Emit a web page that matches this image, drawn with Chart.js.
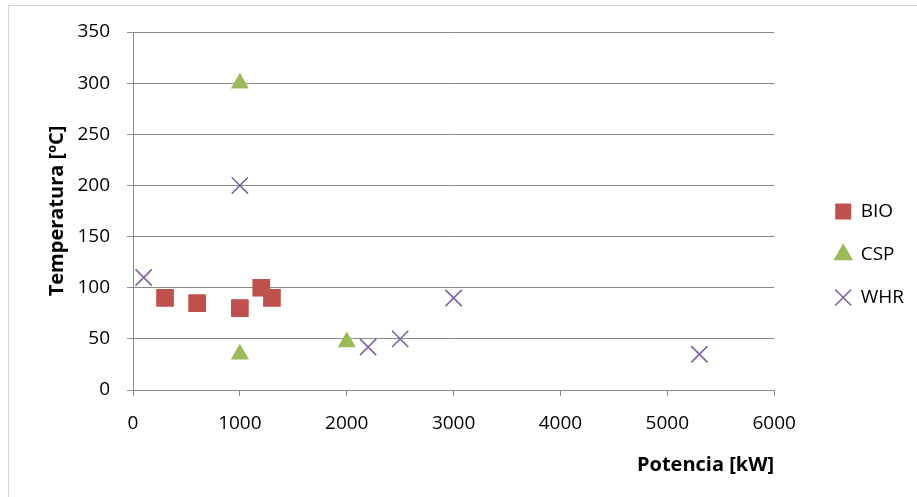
<!DOCTYPE html>
<html>
<head>
<meta charset="utf-8">
<script src="https://cdn.jsdelivr.net/npm/chart.js@4.4.0/dist/chart.umd.min.js"></script>
<style>
    body { margin: 0; background: #fff; overflow: hidden; }
    #frame { position: absolute; left: 8px; top: 5px; width: 1000px; height: 600px; border: 1px solid #d4d4d4; }
    #wrap { position: absolute; left: 0; top: 0; width: 917px; height: 497px; }
</style>
</head>
<body>
<div id="frame"></div>
<div id="wrap"><canvas id="chart"></canvas></div>
<script>
const bioPotencia = [300, 600, 1000, 1200, 1300];
const bioTemp = [90, 85, 80, 100, 90];
const cspPotencia = [1000, 1000, 2000];
const cspTemp = [300, 35, 47];
const whrPotencia = [100, 1000, 2200, 2500, 3000, 5300];
const whrTemp = [110, 200, 42, 50, 90, 35];

const xTicks = [0, 1000, 2000, 3000, 4000, 5000, 6000];
const yTicks = [0, 50, 100, 150, 200, 250, 300, 350];

function toPoints(xs, ys) {
    let pts = [];
    for (let i = 0; i < xs.length; i++) {
        pts.push({x: xs[i], y: ys[i]});
    }
    return pts;
}

const fontFamily = "'Open Sans', sans-serif";
const gridColor = "#8a8a8a";

// push the legend a bit to the right of the plot, like Excel does
const legendShift = {
    id: "legendShift",
    afterLayout(chart) {
        chart.legend.left += 37;
        chart.legend.right += 37;
    }
};

const chartOptions = {
    type: "scatter",
    data: {
        datasets: [
            {
                label: "BIO",
                data: toPoints(bioPotencia, bioTemp),
                pointStyle: "rect",
                pointRadius: 12.5,
                backgroundColor: "#c0504d",
                borderColor: "#c0504d",
                borderWidth: 0,
            },
            {
                label: "CSP",
                data: toPoints(cspPotencia, cspTemp),
                pointStyle: "triangle",
                pointRadius: 10.5,
                backgroundColor: "#9bbb59",
                borderColor: "#9bbb59",
                borderWidth: 0,
            },
            {
                label: "WHR",
                data: toPoints(whrPotencia, whrTemp),
                pointStyle: "crossRot",
                pointRadius: 11.5,
                backgroundColor: "#8064a2",
                borderColor: "#8064a2",
                borderWidth: 1.6,
            },
        ],
    },
    options: {
        responsive: false,
        animation: false,
        layout: {
            padding: {left: 45, top: 32, right: 40, bottom: 20},
        },
        plugins: {
            tooltip: {enabled: false},
            legend: {
                position: "right",
                labels: {
                    usePointStyle: true,
                    boxWidth: 16,
                    boxHeight: 16,
                    padding: 24,
                    color: "#000",
                    font: {family: fontFamily, size: 19},
                },
            },
        },
        scales: {
            x: {
                type: "linear",
                min: 0,
                max: 6000,
                afterBuildTicks: (scale) => { scale.ticks = xTicks.map(v => ({value: v})); },
                afterFit: (scale) => { scale.height = 497 - 390 - 20; },
                ticks: {
                    color: "#000",
                    padding: 16,
                    font: {family: fontFamily, size: 19},
                    callback: (value) => String(value),
                },
                grid: {
                    drawOnChartArea: false,
                    drawTicks: true,
                    tickLength: 6,
                    color: gridColor,
                },
                border: {color: gridColor, width: 1},
                title: {
                    display: true,
                    text: "Potencia [kW]",
                    align: "end",
                    color: "#000",
                    font: {family: fontFamily, size: 20, weight: "bold"},
                    padding: {top: 0, bottom: 0},
                },
            },
            y: {
                type: "linear",
                min: 0,
                max: 350,
                afterBuildTicks: (scale) => { scale.ticks = yTicks.map(v => ({value: v})); },
                afterFit: (scale) => { scale.width = 133 - 45; },
                ticks: {
                    color: "#000",
                    padding: 17,
                    font: {family: fontFamily, size: 19},
                    callback: (value) => String(value),
                },
                grid: {
                    tickLength: 6,
                    color: gridColor,
                },
                border: {color: gridColor, width: 1},
                title: {
                    display: true,
                    text: "Temperatura [ºC]",
                    color: "#000",
                    font: {family: fontFamily, size: 20, weight: "bold"},
                    padding: {top: 0, bottom: 0},
                },
            },
        },
    },
    plugins: [legendShift],
};

const canvas = document.getElementById("chart");
canvas.width = 917;
canvas.height = 497;
new Chart(canvas, chartOptions);
</script>
</body>
</html>
